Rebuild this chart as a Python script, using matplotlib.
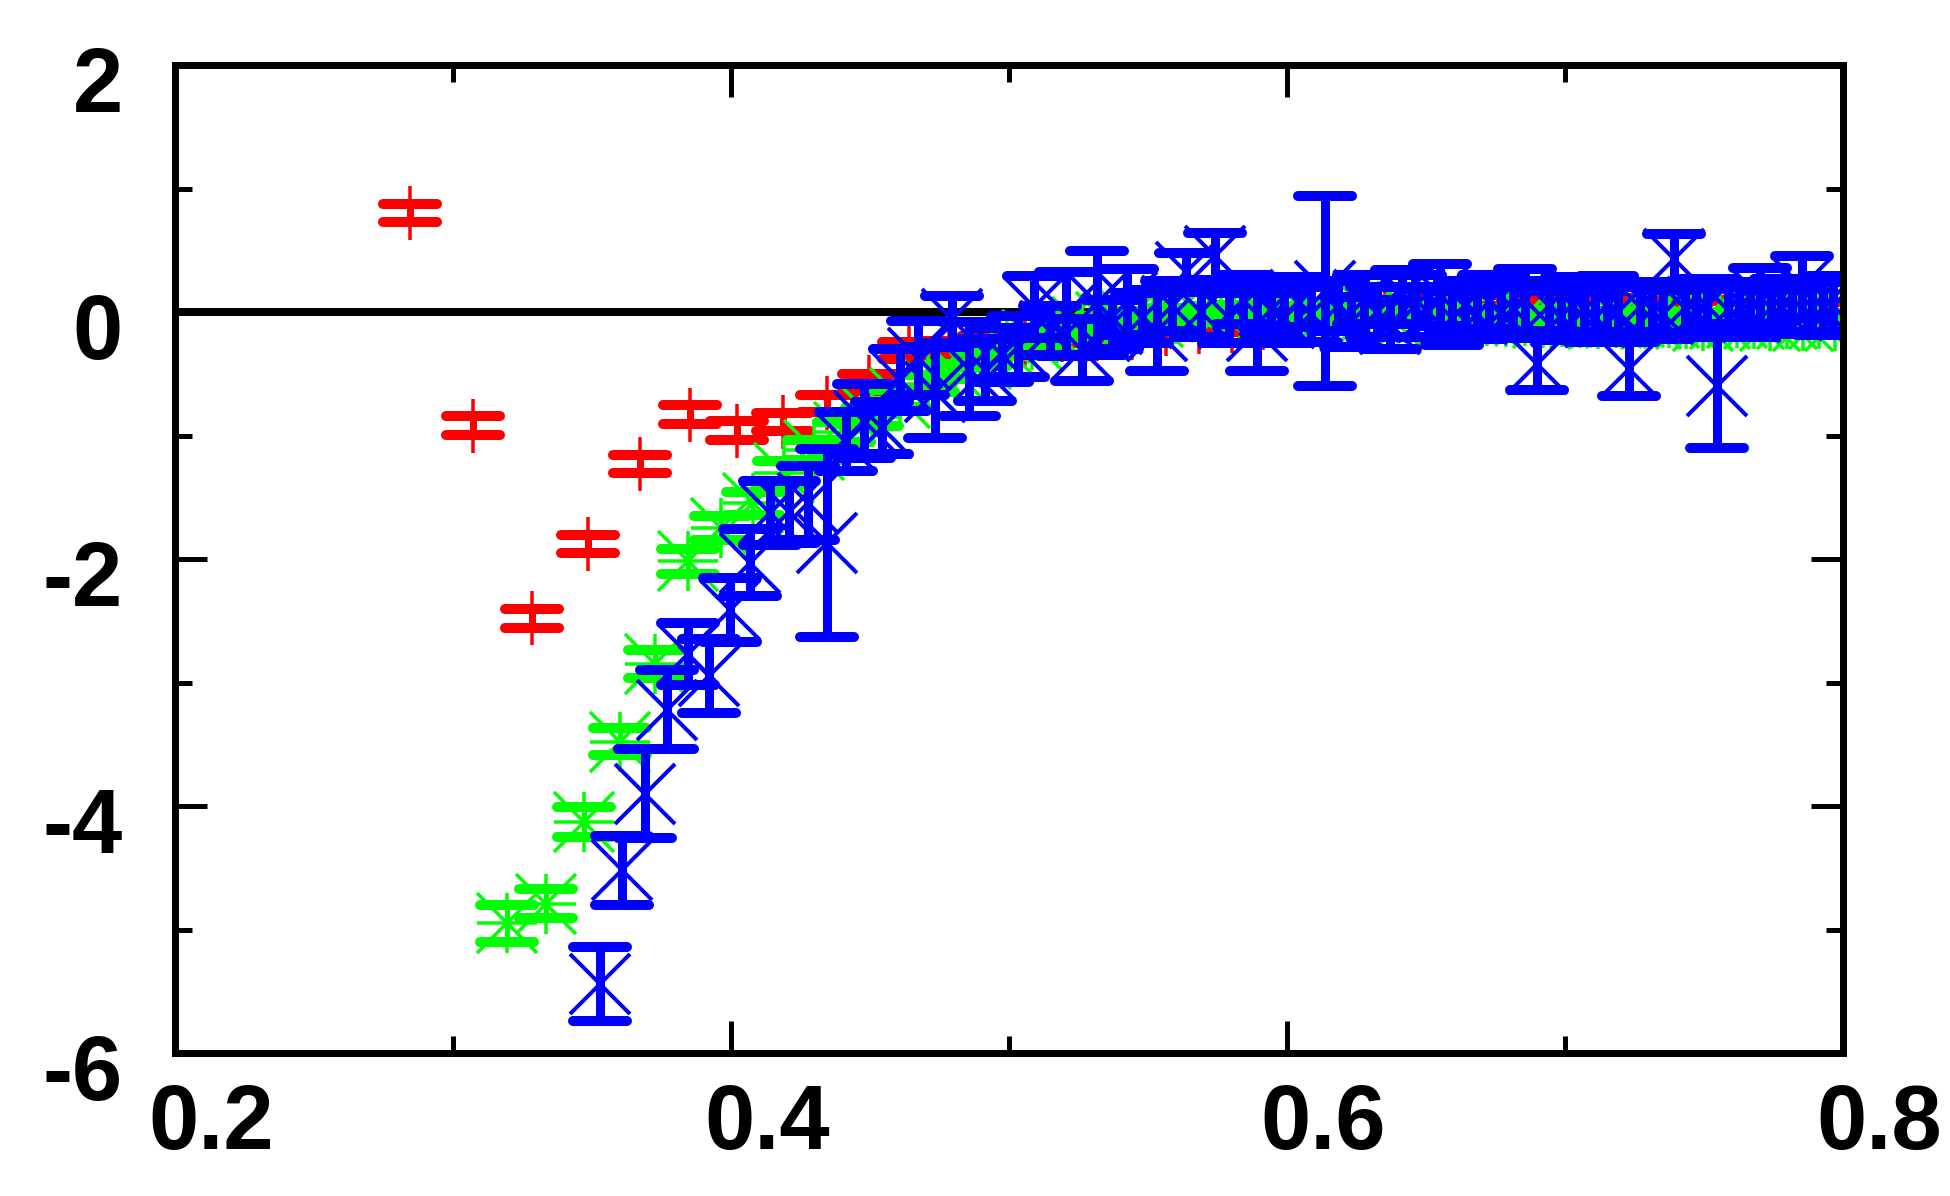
import matplotlib
matplotlib.use("Agg")
import matplotlib.pyplot as plt
from matplotlib.markers import MarkerStyle
from matplotlib.ticker import FixedLocator
import matplotlib.transforms as mtransforms

plt.rcParams['axes.unicode_minus'] = False

# ---------------- data ----------------
red_x = [0.2844, 0.3071, 0.3284, 0.3485, 0.3674, 0.3852, 0.4023, 0.4188, 0.4347, 0.4496,
         0.4641, 0.4784, 0.4923, 0.5057, 0.5189, 0.5317, 0.5442, 0.5564, 0.5683, 0.5801,
         0.5915, 0.6028, 0.6138, 0.6247, 0.6354, 0.6459, 0.6562, 0.6664, 0.6764, 0.6863,
         0.6960, 0.7056, 0.7151, 0.7244, 0.7336, 0.7428, 0.7517, 0.7606, 0.7694, 0.7781,
         0.7867, 0.7952]
red_y = [0.80, -0.92, -2.48, -1.88, -1.23, -0.83, -0.96, -0.89, -0.74, -0.57,
         -0.31, -0.30, -0.26, -0.22, -0.19, -0.18, -0.17, -0.14, -0.12, -0.11,
         -0.09, -0.07, -0.05, -0.03, 0.00, 0.03, 0.07, 0.10, 0.09, 0.07,
         0.05, 0.05, 0.06, 0.05, 0.06, 0.04, 0.05, 0.04, 0.03, 0.04,
         0.03, 0.03]
red_err = [0.075, 0.075, 0.075, 0.075, 0.075, 0.075, 0.075, 0.075, 0.07, 0.07,
           0.07, 0.065, 0.065, 0.06, 0.06, 0.06, 0.06, 0.055, 0.055, 0.055,
           0.05, 0.05, 0.05, 0.05, 0.05, 0.05, 0.05, 0.05, 0.05, 0.05,
           0.05, 0.05, 0.05, 0.05, 0.05, 0.05, 0.05, 0.05, 0.05, 0.05,
           0.05, 0.05]

green_x = [0.3194, 0.3335, 0.3470, 0.3600, 0.3726, 0.3847, 0.3965, 0.4079, 0.4190, 0.4299,
           0.4405, 0.4508, 0.4609, 0.4707, 0.4804, 0.4899, 0.4992, 0.5083, 0.5173, 0.5261,
           0.5348, 0.5433, 0.5517, 0.5600, 0.5682, 0.5762, 0.5841, 0.5919, 0.5997, 0.6073,
           0.6148, 0.6223, 0.6296, 0.6369, 0.6441, 0.6512, 0.6582, 0.6651, 0.6720, 0.6788,
           0.6856, 0.6922, 0.6989, 0.7054, 0.7119, 0.7183, 0.7247, 0.7310, 0.7373, 0.7435,
           0.7497, 0.7558, 0.7618, 0.7679, 0.7738, 0.7797, 0.7856, 0.7915, 0.7972]
green_y = [-4.95, -4.79, -4.13, -3.48, -2.85, -2.02, -1.75, -1.55, -1.30, -1.12,
           -0.97, -0.85, -0.70, -0.58, -0.48, -0.38, -0.30, -0.23, -0.17, -0.12,
           -0.08, -0.06, -0.04, -0.02, -0.02, 0.00, 0.01, -0.01, 0.00, -0.02,
           0.01, 0.00, -0.01, -0.03, -0.02, 0.00, -0.01, -0.02, -0.03, -0.04,
           -0.03, -0.05, -0.04, -0.05, -0.06, -0.05, -0.04, -0.06, -0.05, -0.06,
           -0.07, -0.06, -0.05, -0.06, -0.07, -0.06, -0.07, -0.06, -0.07]
green_err = [0.15, 0.12, 0.12, 0.11, 0.11, 0.10, 0.10, 0.09, 0.09, 0.08,
             0.08, 0.07, 0.07, 0.07, 0.06, 0.06, 0.06, 0.06, 0.05, 0.05,
             0.05, 0.05, 0.05, 0.05, 0.05, 0.05, 0.05, 0.05, 0.05, 0.05,
             0.05, 0.05, 0.05, 0.05, 0.05, 0.05, 0.05, 0.05, 0.05, 0.05,
             0.05, 0.05, 0.05, 0.05, 0.05, 0.05, 0.05, 0.05, 0.05, 0.05,
             0.05, 0.05, 0.05, 0.05, 0.05, 0.05, 0.05, 0.05, 0.05]

blue_x = [0.3527, 0.3609, 0.3689, 0.3768, 0.3845, 0.3920, 0.3995, 0.4067, 0.4139, 0.4209,
          0.4278, 0.4346, 0.4413, 0.4479, 0.4544, 0.4608, 0.4671, 0.4733, 0.4795, 0.4855,
          0.4915, 0.4975, 0.5033, 0.5091, 0.5148, 0.5205, 0.5261, 0.5316, 0.5371, 0.5425,
          0.5479, 0.5532, 0.5585, 0.5637, 0.5689, 0.5740, 0.5791, 0.5841, 0.5891, 0.5941,
          0.5990, 0.6039, 0.6087, 0.6135, 0.6183, 0.6230, 0.6277, 0.6323, 0.6369, 0.6415,
          0.6461, 0.6506, 0.6551, 0.6595, 0.6640, 0.6684, 0.6727, 0.6771, 0.6814, 0.6857,
          0.6899, 0.6942, 0.6984, 0.7026, 0.7067, 0.7108, 0.7150, 0.7190, 0.7231, 0.7271,
          0.7312, 0.7352, 0.7391, 0.7431, 0.7470, 0.7509, 0.7548, 0.7587, 0.7625, 0.7664,
          0.7702, 0.7740, 0.7778, 0.7815, 0.7853, 0.7890, 0.7927, 0.7964]
blue_y = [-5.44, -4.52, -3.90, -3.22, -2.77, -2.95, -2.41, -2.03, -1.63, -1.62,
          -1.55, -1.87, -1.05, -0.88, -0.94, -0.55, -0.37, -0.65, -0.06, -0.46,
          -0.47, -0.35, -0.28, 0.04, -0.15, -0.02, -0.31, 0.07, -0.10, 0.08,
          -0.05, -0.15, 0.05, 0.32, 0.00, 0.45, -0.05, 0.10, -0.15, 0.02,
          -0.05, 0.08, -0.02, 0.17, 0.05, -0.08, 0.10, 0.00, -0.10, 0.12,
          0.05, 0.00, 0.14, -0.05, 0.05, -0.02, 0.08, 0.00, 0.03, 0.10,
          -0.42, 0.05, -0.03, 0.06, 0.02, -0.04, 0.05, 0.00, -0.46, 0.04,
          0.02, -0.02, 0.43, 0.03, 0.00, 0.05, -0.60, 0.02, 0.04, 0.00,
          0.12, 0.03, 0.05, 0.02, 0.20, 0.04, 0.03, 0.05]
blue_err = [0.30, 0.28, 0.36, 0.32, 0.25, 0.30, 0.26, 0.27, 0.26, 0.25,
            0.30, 0.76, 0.24, 0.30, 0.21, 0.25, 0.30, 0.37, 0.19, 0.38,
            0.25, 0.22, 0.25, 0.25, 0.20, 0.34, 0.25, 0.42, 0.20, 0.27,
            0.20, 0.33, 0.20, 0.16, 0.20, 0.19, 0.20, 0.20, 0.33, 0.20,
            0.20, 0.20, 0.22, 0.77, 0.20, 0.20, 0.20, 0.20, 0.20, 0.22,
            0.25, 0.20, 0.25, 0.22, 0.20, 0.20, 0.22, 0.20, 0.20, 0.25,
            0.21, 0.20, 0.20, 0.22, 0.20, 0.20, 0.24, 0.20, 0.22, 0.20,
            0.20, 0.20, 0.20, 0.20, 0.20, 0.22, 0.50, 0.20, 0.20, 0.20,
            0.24, 0.20, 0.22, 0.20, 0.25, 0.20, 0.22, 0.24]

x_ticks = [0.2, 0.4, 0.6, 0.8]
x_ticklabels = ["0.2", "0.4", "0.6", "0.8"]
x_minor = [0.3, 0.5, 0.7]
y_ticks = [-6, -4, -2, 0, 2]
y_ticklabels = ["-6", "-4", "-2", "0", "2"]
y_minor = [-5, -3, -1, 1]

# ---------------- figure ----------------
PX = 0.72  # points per pixel at dpi=100
fig = plt.figure(figsize=(19.5, 11.96), dpi=100)
ax = fig.add_axes([175 / 1950, 1 - 1053 / 1196, (1843 - 175) / 1950, (1053 - 65) / 1196])
ax.set_xlim(0.2, 0.8)
ax.set_ylim(-6, 2)

ax.axhline(0, color='black', lw=8 * PX, zorder=1)

def series(x, y, e, color, elw, markers, msize, mew, z):
    _, caps, bars = ax.errorbar(x, y, yerr=e, fmt='none', ecolor=color,
                                elinewidth=elw * PX, capsize=29 * PX,
                                capthick=10 * PX, zorder=z)
    for b in bars:
        b.set_capstyle('round')
    for c in caps:
        c.set_marker(MarkerStyle('_', capstyle='round'))
        c.set_markersize(54 * PX)
        c.set_markeredgewidth(10 * PX)
    for m in markers:
        ax.plot(x, y, linestyle='none', marker=m, markersize=msize * PX,
                markeredgewidth=mew * PX, color=color, zorder=z + 0.5)

series(red_x, red_y, red_err, '#ff0000', 7, ['|'], 54, 3.5, 2)
series(green_x, green_y, green_err, '#00ff00', 5, ['+', 'x'], 60, 3.5, 3)
series(blue_x, blue_y, blue_err, '#0000ff', 9, ['x'], 60, 4, 4)

# ---------------- axes styling ----------------
for sp in ax.spines.values():
    sp.set_linewidth(7 * PX)
    sp.set_zorder(10)

ax.xaxis.set_major_locator(FixedLocator(x_ticks))
ax.xaxis.set_minor_locator(FixedLocator(x_minor))
ax.yaxis.set_major_locator(FixedLocator(y_ticks))
ax.yaxis.set_minor_locator(FixedLocator(y_minor))
ax.set_xticklabels(x_ticklabels)
ax.set_yticklabels(y_ticklabels)

ax.tick_params(which='both', direction='in', top=True, right=True,
               width=5 * PX, colors='black')
ax.tick_params(which='major', length=32 * PX)
ax.tick_params(which='minor', length=17 * PX)
ax.tick_params(axis='x', which='major', pad=30 * PX)
ax.tick_params(axis='y', which='major', pad=52 * PX)

font = dict(family='Liberation Sans', weight='bold', size=65)
for lab in ax.get_xticklabels():
    lab.set_fontproperties(matplotlib.font_manager.FontProperties(**font))
    lab.set_transform(lab.get_transform() +
                      mtransforms.ScaledTranslation(36 / 100, 0, fig.dpi_scale_trans))
for lab in ax.get_yticklabels():
    lab.set_fontproperties(matplotlib.font_manager.FontProperties(**font))
    lab.set_transform(lab.get_transform() +
                      mtransforms.ScaledTranslation(0, -14 / 100, fig.dpi_scale_trans))

fig.savefig('out.png', dpi=100, facecolor='white')
